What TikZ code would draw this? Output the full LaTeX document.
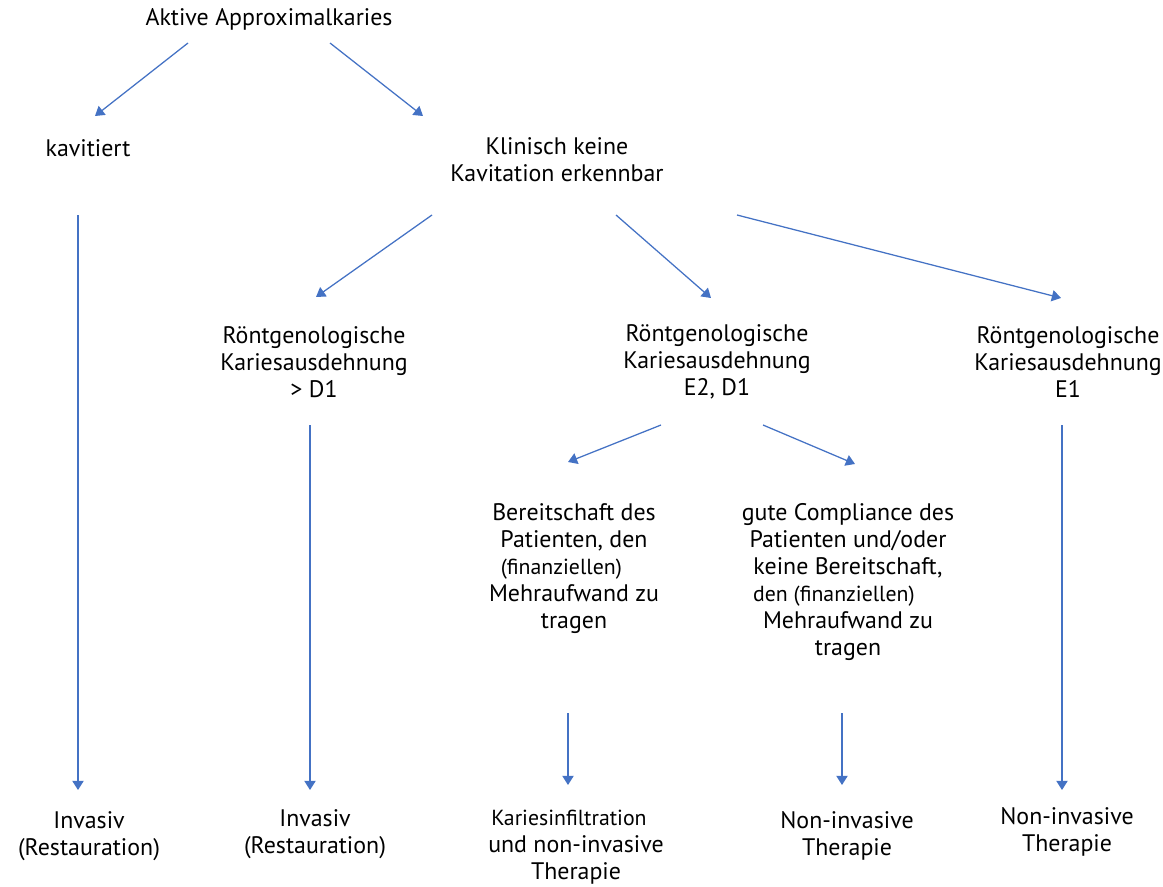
\documentclass[tikz,border=0pt]{standalone}
\usepackage{fontspec}
\setmainfont{PT Sans}
\usetikzlibrary{arrows.meta}
\definecolor{arrblue}{RGB}{68,114,196}
\newcommand{\normtxt}{\fontsize{17}{19.2}\selectfont}
\newcommand{\smtxt}{\fontsize{15.5}{19.2}\selectfont}

\begin{document}
\begin{tikzpicture}[x=0.025cm, y=-0.025cm,
  lbl/.style={align=center, inner sep=0pt, font=\normtxt},
  arr/.style={-{Triangle[length=6.5pt,width=8pt]}, color=arrblue, line width=0.9pt}]
			%%%%% START %%%%%
			\useasboundingbox (0, 0) rectangle (1163, 887);

			% texts
			\node[lbl] (aktiv) at (269, 19) {Aktive Approximalkaries};
			\node[lbl] (kav) at (88, 148) {kavitiert};
			\node[lbl] (klin) at (557, 160) {Klinisch keine\\Kavitation erkennbar};

			\node[lbl] (rD) at (314, 362) {Röntgenologische\\Kariesausdehnung\\> D1};
			\node[lbl] (rED) at (717, 362) {Röntgenologische\\Kariesausdehnung\\E2, D1};
			\node[lbl] (rE) at (1068, 362) {Röntgenologische\\Kariesausdehnung\\E1};

			\node[lbl] (bereit) at (574, 569) {Bereitschaft des\\Patienten, den\\{\smtxt(finanziellen)}\hspace*{18pt}\mbox{}\\Mehraufwand zu\\tragen};
			\node[lbl] (compl) at (848, 582) {gute Compliance des\\Patienten und/oder\\keine Bereitschaft,\\{\smtxt den (finanziellen)}\hspace*{20pt}\mbox{}\\Mehraufwand zu\\tragen};

			\node[lbl] (inv1) at (89, 836) {Invasiv\\(Restauration)};
			\node[lbl] (inv2) at (315, 834) {Invasiv\\(Restauration)};
			\node[lbl] (infil) at (576, 847) {{\smtxt Kariesinfiltration}\hspace*{10pt}\mbox{}\\und non-invasive\\Therapie};
			\node[lbl] (noninv1) at (847, 836) {Non-invasive\\Therapie};
			\node[lbl] (noninv2) at (1067, 832) {Non-invasive\\Therapie};

			% arrow ends
			\coordinate (aktiv-l) at (188, 43);
			\coordinate (aktiv-r) at (330, 43);
			\coordinate (kav-top) at (95, 116);
			\coordinate (klin-top) at (423, 116);
			\coordinate (kav-bot) at (78, 215);
			\coordinate (inv1-top) at (78, 790);
			\coordinate (klin-l) at (432, 215);
			\coordinate (klin-m) at (616, 215);
			\coordinate (klin-r) at (737, 215);
			\coordinate (rD-top) at (316, 297);
			\coordinate (rED-top) at (711, 298);
			\coordinate (rE-top) at (1061, 298);
			\coordinate (rD-bot) at (310, 425);
			\coordinate (inv2-top) at (310, 790);
			\coordinate (rED-l) at (661, 425);
			\coordinate (rED-r) at (763, 425);
			\coordinate (bereit-top) at (568, 462);
			\coordinate (compl-top) at (855, 464);
			\coordinate (rE-bot) at (1062, 425);
			\coordinate (noninv2-top) at (1062, 790);
			\coordinate (bereit-bot) at (568, 713);
			\coordinate (infil-top) at (568, 785);
			\coordinate (compl-bot) at (842, 713);
			\coordinate (noninv1-top) at (842, 785);

			% arrows
			\draw[arr] (aktiv-l) -- (kav-top);
			\draw[arr] (aktiv-r) -- (klin-top);
			\draw[arr] (kav-bot) -- (inv1-top);
			\draw[arr] (klin-l) -- (rD-top);
			\draw[arr] (klin-m) -- (rED-top);
			\draw[arr] (klin-r) -- (rE-top);
			\draw[arr] (rD-bot) -- (inv2-top);
			\draw[arr] (rED-l) -- (bereit-top);
			\draw[arr] (rED-r) -- (compl-top);
			\draw[arr] (rE-bot) -- (noninv2-top);
			\draw[arr] (bereit-bot) -- (infil-top);
			\draw[arr] (compl-bot) -- (noninv1-top);
			%%%%% END %%%%%
\end{tikzpicture}
\end{document}
